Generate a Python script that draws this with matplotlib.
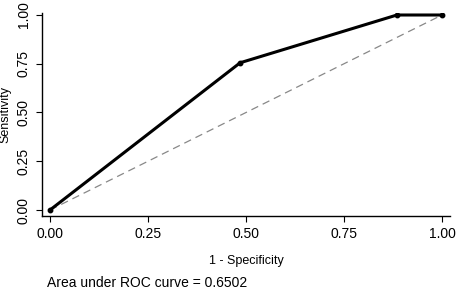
import matplotlib
matplotlib.use("Agg")
import matplotlib.pyplot as plt

# ROC points
fpr = [0.0, 0.485, 0.885, 1.0]
tpr = [0.0, 0.755, 1.0, 1.0]
ticks = [0.0, 0.25, 0.5, 0.75, 1.0]
tick_labels = ["0.00", "0.25", "0.50", "0.75", "1.00"]
auc_text = "Area under ROC curve = 0.6502"

plt.rcParams['font.family'] = ['Liberation Sans', 'DejaVu Sans']

fig = plt.figure(figsize=(4.6, 2.94), dpi=100)
ax = fig.add_axes([42 / 460, 78 / 294, 408 / 460, 203 / 294])

# reference diagonal
ax.plot([0, 1], [0, 1], color="#888888", lw=0.9, ls=(0, (6, 4)))
# ROC curve
ax.plot(fpr, tpr, color="black", lw=2.2, marker="o", ms=3.2, solid_joinstyle="round")

ax.set_xlim(-8 / 392, 1 + 8 / 392)
ax.set_ylim(-6 / 195, 1 + 2 / 195)

ax.set_xticks(ticks)
ax.set_xticklabels(tick_labels, fontsize=10)
ax.set_yticks(ticks)
ax.set_yticklabels(tick_labels, fontsize=10, rotation=90, va="center")
ax.tick_params(direction="out", length=4, width=0.8, pad=4)

for s in ["top", "right"]:
    ax.spines[s].set_visible(False)
for s in ["left", "bottom"]:
    ax.spines[s].set_linewidth(1.0)

ax.set_xlabel("1 - Specificity", fontsize=9, labelpad=10)
ax.set_ylabel("Sensitivity", fontsize=9, labelpad=4)

fig.text(47 / 460, 1 - 283 / 294, auc_text, fontsize=10, va="center", ha="left")

fig.savefig("out.png", dpi=100)
